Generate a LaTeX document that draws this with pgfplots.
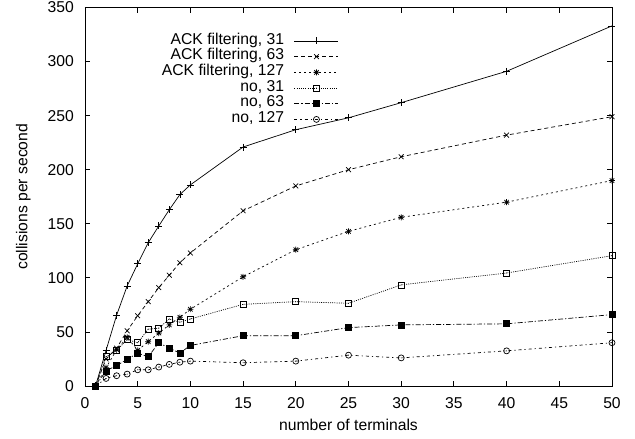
\documentclass[border=0pt]{standalone}
\usepackage{fontspec}
\setmainfont{Liberation Sans}
\usepackage{pgfplots}
\pgfplotsset{compat=1.18}
\usepackage{pgfplotstable}

% gnuplot-like marks
\pgfdeclareplotmark{gstar}{%
  \pgfpathmoveto{\pgfqpoint{-\pgfplotmarksize}{0pt}}\pgfpathlineto{\pgfqpoint{\pgfplotmarksize}{0pt}}%
  \pgfpathmoveto{\pgfqpoint{0pt}{-\pgfplotmarksize}}\pgfpathlineto{\pgfqpoint{0pt}{\pgfplotmarksize}}%
  \pgfpathmoveto{\pgfqpoint{-.75\pgfplotmarksize}{-.75\pgfplotmarksize}}\pgfpathlineto{\pgfqpoint{.75\pgfplotmarksize}{.75\pgfplotmarksize}}%
  \pgfpathmoveto{\pgfqpoint{-.75\pgfplotmarksize}{.75\pgfplotmarksize}}\pgfpathlineto{\pgfqpoint{.75\pgfplotmarksize}{-.75\pgfplotmarksize}}%
  \pgfusepathqstroke}
\pgfdeclareplotmark{sqdot}{%
  \pgfpathrectangle{\pgfqpoint{-\pgfplotmarksize}{-\pgfplotmarksize}}{\pgfqpoint{2\pgfplotmarksize}{2\pgfplotmarksize}}%
  \pgfusepathqstroke
  \pgfpathcircle{\pgfpointorigin}{0.5pt}\pgfusepathqfill}
\pgfdeclareplotmark{ocdot}{%
  \pgfpathcircle{\pgfpointorigin}{\pgfplotmarksize}\pgfusepathqstroke
  \pgfpathcircle{\pgfpointorigin}{0.5pt}\pgfusepathqfill}

\pgfplotstableread{
x   a31   a63   a127  n31   n63   n127
1   0     0     0     0     0     0
2   33    25    17    27    14    7
3   65.5  35    33.5  33    19    9.5
4   92.5  51    45    43    24.5  11
5   113   65    33    40    30.5  15
6   132.5 78    41    52.5  27    15
7   148   91    49    53.5  40    17.5
8   163   102.5 56.5  62    35    20
9   177   114   63.5  59    30.5  22
10  186   123   71    62    37.5  23
15  221   162   101   75.5  46.5  21.5
20  237   185   126   78    46.5  23
25  248   200   143   76.5  54    28.5
30  262   212   156   93.5  56.5  26
40  291   232   170   104.5 57.5  32.5
50  333   249   190   120.5 66    40
}\data

\begin{document}
\begin{tikzpicture}[font=\fontsize{15.7}{18}\selectfont]
\begin{axis}[
  scale only axis, width=527pt, height=378.5pt,
  xmin=0, xmax=50, ymin=0, ymax=350,
  xtick={0,5,...,50}, ytick={0,50,...,350},
  /pgf/number format/assume math mode=true,
  axis line style={line width=0.8pt},
  major tick length=5pt, tick style={line width=0.8pt,black},
  every tick label/.append style={inner sep=0pt},
  xticklabel style={yshift=-11pt},
  yticklabel style={xshift=-11pt},
  xlabel={number of terminals},
  ylabel={collisions per second},
  xlabel style={at={(axis description cs:0.5,0)}, anchor=base, yshift=-45pt},
  ylabel style={at={([xshift=-57.5pt]axis description cs:0,0.5)}, anchor=base, rotate=0},
  clip=false,
  legend plot pos=right,
  legend cell align=right,
  legend style={at={(0.482,0.933)}, anchor=north east, draw=none, fill=none,
    inner sep=0pt, row sep=0pt, column sep=10pt,
    nodes={inner sep=0pt, text height=11pt, text depth=4.7pt}},
  legend image code/.code={\draw[mark repeat=2,mark phase=2] plot coordinates {(0pt,0pt) (22pt,0pt) (44pt,0pt)};},
  every axis plot/.append style={black, line width=0.7pt, mark options={solid, line width=0.7pt}},
]
\addplot[mark=+, mark size=3.5pt] table[x=x,y=a31] {\data};
\addlegendentry{ACK filtering, 31}
\addplot[dash pattern=on 4pt off 3pt, mark=x, mark size=3.4pt] table[x=x,y=a63] {\data};
\addlegendentry{ACK filtering, 63}
\addplot[dash pattern=on 2pt off 3pt, mark=gstar, mark size=3pt] table[x=x,y=a127] {\data};
\addlegendentry{ACK filtering, 127}
\addplot[dash pattern=on 1pt off 1.2pt, mark=sqdot, mark size=3pt] table[x=x,y=n31] {\data};
\addlegendentry{no, 31}
\addplot[dash pattern=on 5pt off 2pt on 1.2pt off 2pt, mark=square*, mark size=3pt] table[x=x,y=n63] {\data};
\addlegendentry{no, 63}
\addplot[dash pattern=on 3pt off 3pt on 1.2pt off 3pt, mark=ocdot, mark size=3pt] table[x=x,y=n127] {\data};
\addlegendentry{no, 127}
\path (rel axis cs:0,0) ++(-85pt,-53pt) coordinate (bbl);
\path (rel axis cs:0,0) ++(550pt,386pt) coordinate (btr);
\end{axis}
\path (bbl) rectangle (btr);
\end{tikzpicture}
\end{document}
